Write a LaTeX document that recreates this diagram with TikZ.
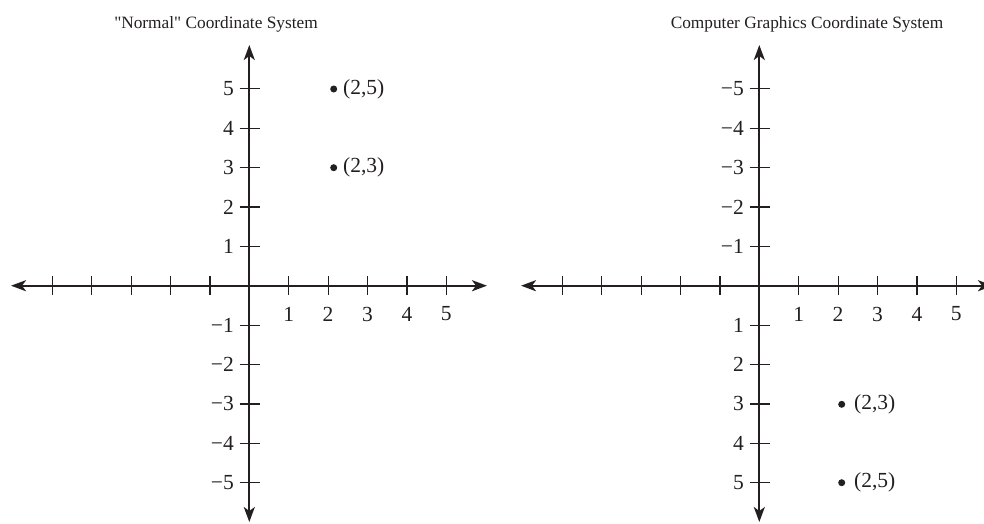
\documentclass[tikz,border=0pt]{standalone}
\usepackage{fontspec}
\setmainfont{Liberation Serif}[Ligatures=TeXOff]
\usetikzlibrary{arrows.meta}
\definecolor{ink}{HTML}{231F20}
\tikzset{
  axis/.style={draw=ink, line width=2.2pt, {Stealth[length=15pt,width=11pt,inset=4pt]}-{Stealth[length=15pt,width=11pt,inset=4pt]}},
  tick/.style={draw=ink, line width=1.2pt},
  lbl/.style={font=\fontsize{21.5}{24}\selectfont, text=ink, inner sep=0pt},
  ttl/.style={font=\fontsize{17.3}{20}\selectfont, text=ink, inner sep=0pt, anchor=base},
  dot/.style={circle, fill=ink, inner sep=0pt, minimum size=7pt}
}
\begin{document}
\begin{tikzpicture}[x=1pt, y=-1pt]
\useasboundingbox (0,0) rectangle (984,523);
% ---------- Left system ----------
\node[ttl] (t1) at (216,28) {"Normal" Coordinate System};
\coordinate (lL) at (11,285.7);
\coordinate (lR) at (487,285.7);
\coordinate (lT) at (249.3,45);
\coordinate (lB) at (249.3,522);
\draw[axis] (lL) -- (lR);
\draw[axis] (lB) -- (lT);
\foreach \i in {-5,...,-1,1,2,...,5} {
  \draw[tick] (249.3+39.4*\i,276) -- (249.3+39.4*\i,295.4);
  \draw[tick] (239.5,285.7-39.4*\i) -- (259.5,285.7-39.4*\i);
}
\foreach \i in {1,...,5} {
  \node[lbl] (lx\i) at (249.3+39.4*\i,314) {\i};
  \node[lbl, anchor=east] (ly\i) at (234,285.7-39.4*\i) {\i};
  \node[lbl, anchor=east] (lyn\i) at (234,285.7+39.4*\i) {−\i};
}
\node[dot] (p25) at (333.7,89) {};
\node[lbl, anchor=west] (p25l) at (343,89) {(2,5)};
\node[dot] (p23) at (333.7,167.7) {};
\node[lbl, anchor=west] (p23l) at (343,167.7) {(2,3)};
% ---------- Right system ----------
\node[ttl] (t2) at (807,28) {Computer Graphics Coordinate System};
\coordinate (rL) at (521,285.7);
\coordinate (rR) at (993,285.7);
\coordinate (rT) at (759.3,45);
\coordinate (rB) at (759.3,522);
\draw[axis] (rL) -- (rR);
\draw[axis] (rB) -- (rT);
\foreach \i in {-5,...,-1,1,2,...,5} {
  \draw[tick] (759.3+39.4*\i,276) -- (759.3+39.4*\i,295.4);
  \draw[tick] (749.5,285.7-39.4*\i) -- (769.5,285.7-39.4*\i);
}
\foreach \i in {1,...,5} {
  \node[lbl] (rx\i) at (759.3+39.4*\i,314) {\i};
  \node[lbl, anchor=east] (ry\i) at (744,285.7+39.4*\i) {\i};
  \node[lbl, anchor=east] (ryn\i) at (744,285.7-39.4*\i) {−\i};
}
\node[dot] (q23) at (841.7,404.3) {};
\node[lbl, anchor=west] (q23l) at (854,404.3) {(2,3)};
\node[dot] (q25) at (841.7,482.7) {};
\node[lbl, anchor=west] (q25l) at (854,482.7) {(2,5)};
\end{tikzpicture}
\end{document}
